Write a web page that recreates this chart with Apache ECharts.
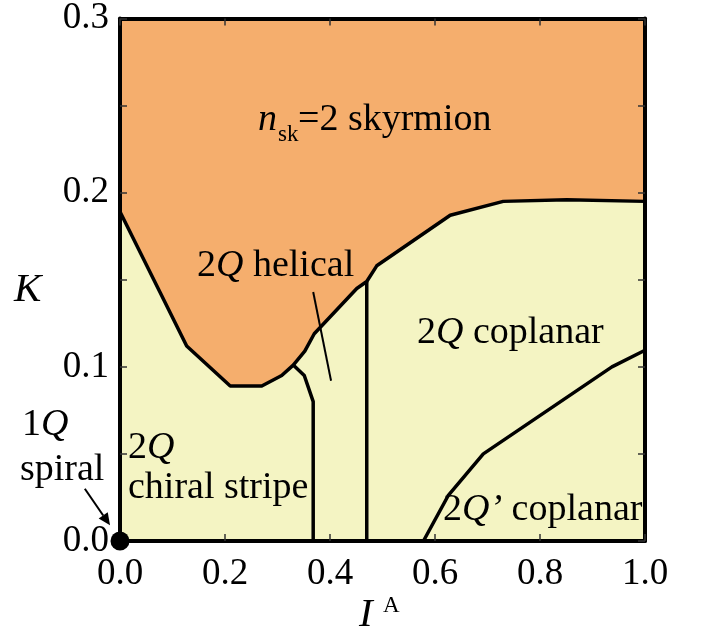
<!DOCTYPE html>
<html><head><meta charset="utf-8">
<script src="https://cdn.jsdelivr.net/npm/echarts@6/dist/echarts.min.js"></script>
<style>html,body{margin:0;padding:0;background:#fff}#c{width:705px;height:635px}</style>
</head><body><div id="c"></div>
<script>
// ---- data ----
const xTicks = [0, 0.2, 0.4, 0.6, 0.8, 1.0];
const yTicks = [0, 0.1, 0.2, 0.3];
// lower edge of the n_sk=2 skyrmion phase
const skyrmionEdge = [[0,0.189],[0.076,0.143],[0.127,0.112],[0.210,0.089],[0.270,0.089],[0.308,0.095],[0.330,0.101],[0.352,0.109],[0.370,0.119],[0.451,0.145],[0.470,0.149],[0.489,0.158],[0.629,0.187],[0.730,0.195],[0.851,0.196],[1.0,0.195]];
// 2Q chiral stripe | 2Q helical boundary
const chiralEdge = [[0.330,0.101],[0.351,0.095],[0.368,0.080],[0.368,0]];
// 2Q helical | 2Q coplanar boundary
const helicalEdge = [[0.470,0.149],[0.470,0]];
// 2Q coplanar | 2Q' coplanar boundary
const primeEdge = [[0.578,0],[0.625,0.026],[0.692,0.050],[0.937,0.100],[1.0,0.1095]];
// pointer from the "2Q helical" label
const helicalPointer = [[0.368,0.143],[0.402,0.092]];
// 1Q spiral point and its arrow
const spiralPoint = [[0, 0]];
const spiralArrow = [[-0.067,0.030],[-0.019,0.009]];

const ORANGE = '#F5AE6D', YELLOW = '#F4F4C3';
const FONT = '"Liberation Serif", "Times New Roman", serif';

const chart = echarts.init(document.getElementById('c'));

function poly(points, color, z) {
  return {
    type: 'custom', coordinateSystem: 'cartesian2d', data: [0], z: z, silent: true,
    renderItem: function (params, api) {
      return { type: 'polygon', shape: { points: points.map(p => api.coord(p)) }, style: { fill: color } };
    }
  };
}
function edge(pts, w, z) {
  return { type: 'line', data: pts, showSymbol: false, symbol: 'none', z: z || 5, silent: true,
    lineStyle: { color: '#000', width: w, join: 'round' }, clip: false, animation: false };
}

const axisCommon = {
  type: 'value', min: 0, z: 20,
  axisLine: { show: true, onZero: false, lineStyle: { color: '#000', width: 4 } },
  axisTick: { show: true, inside: true, length: 7, lineStyle: { color: '#333', width: 1.5 } },
  splitLine: { show: false }
};
const labelStyle = { color: '#000', fontFamily: FONT, fontSize: 37 };

const option = {
  animation: false,
  grid: { left: 120, top: 16, width: 525, height: 525 },
  xAxis: [
    Object.assign({}, axisCommon, { max: 1, interval: 0.2, position: 'bottom',
      axisLabel: Object.assign({ margin: 15, formatter: v => v.toFixed(1) }, labelStyle) }),
    Object.assign({}, axisCommon, { max: 1, interval: 0.2, position: 'top', axisLabel: { show: false } })
  ],
  yAxis: [
    Object.assign({}, axisCommon, { max: 0.3, interval: 0.05, position: 'left',
      axisLabel: Object.assign({ margin: 11, formatter: v => (Math.round(v * 100) % 10 === 0 ? v.toFixed(1) : '') }, labelStyle) }),
    Object.assign({}, axisCommon, { max: 0.3, interval: 0.05, position: 'right', axisLabel: { show: false } })
  ],
  series: [
    poly([[0,0],[1,0],[1,0.3],[0,0.3]], YELLOW, 1),
    poly(skyrmionEdge.concat([[1,0.3],[0,0.3]]), ORANGE, 2),
    edge(skyrmionEdge, 3.5),
    edge(chiralEdge, 3.5),
    edge(helicalEdge, 3.5),
    edge(primeEdge, 3.5),
    edge(helicalPointer, 2),
    {
      type: 'custom', coordinateSystem: 'cartesian2d', data: [0], z: 25, silent: true, clip: false,
      renderItem: function (params, api) {
        const a = api.coord(spiralArrow[0]), b = api.coord(spiralArrow[1]);
        const dx = b[0] - a[0], dy = b[1] - a[1], L = Math.hypot(dx, dy);
        const ux = dx / L, uy = dy / L, hl = 12, hw = 5.5;
        const base = [b[0] - ux * hl, b[1] - uy * hl];
        return { type: 'group', children: [
          { type: 'line', shape: { x1: a[0], y1: a[1], x2: base[0], y2: base[1] }, style: { stroke: '#000', lineWidth: 2 } },
          { type: 'polygon', shape: { points: [b, [base[0] - uy * hw, base[1] + ux * hw], [base[0] + uy * hw, base[1] - ux * hw]] }, style: { fill: '#000' } }
        ] };
      }
    },
    { type: 'scatter', data: spiralPoint, symbolSize: 19, itemStyle: { color: '#000', opacity: 1 }, z: 30, clip: false, silent: true }
  ]
};
chart.setOption(option);

function T(x, y, text, size, extra) {
  return Object.assign({ type: 'text', z: 100, silent: true, style: Object.assign({
    x: x, y: y, text: text, fill: '#000', font: size + 'px ' + FONT, align: 'left', verticalAlign: 'middle',
    rich: { i: { fontStyle: 'italic', fontSize: size, fontFamily: FONT }, n: { fontSize: size, fontFamily: FONT } }
  }, extra || {}) });
}
chart.setOption({ graphic: [
  T(258, 120, 'n', 38, { font: 'italic 38px ' + FONT }),
  T(278, 135, 'sk', 23),
  T(298, 120, '=2 skyrmion', 38),
  T(197, 266, '{n|2}{i|Q}{n| helical}', 38),
  T(417, 333, '{n|2}{i|Q}{n| coplanar}', 38),
  T(443, 510, '{n|2}{i|Q’}{n| coplanar}', 38),
  T(128, 448, '{n|2}{i|Q}', 38),
  T(128, 488, 'chiral stripe', 38),
  T(22, 425, '{n|1}{i|Q}', 38),
  T(20, 470, 'spiral', 38),
  T(14, 290, 'K', 41, { font: 'italic 41px ' + FONT }),
  T(359, 615, 'I', 41, { font: 'italic 41px ' + FONT }),
  T(383, 606, 'A', 23)
] });
</script></body></html>
